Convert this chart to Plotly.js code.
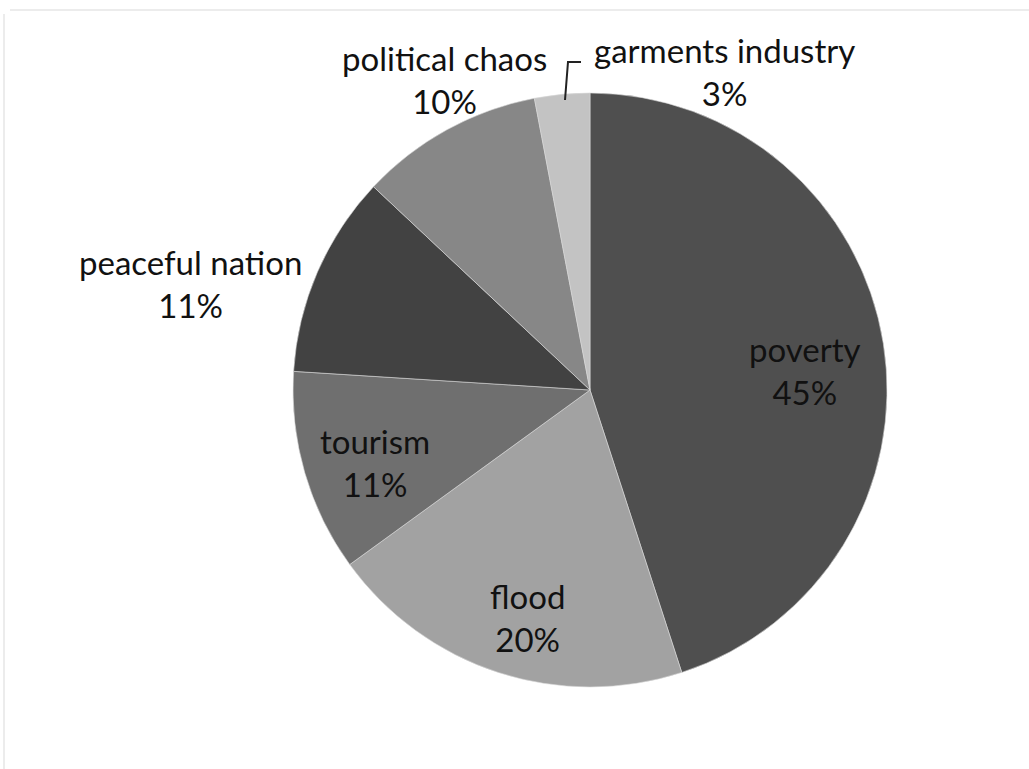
<!DOCTYPE html>
<html>
<head>
<meta charset="utf-8">
<script src="https://cdn.plot.ly/plotly-3.0.1.min.js"></script>
<style>html,body{margin:0;padding:0;background:#fff;}#chart{width:1029px;height:769px;}</style>
</head>
<body>
<div id="chart"></div>
<script>
const categories = ["poverty", "flood", "tourism", "peaceful nation", "political chaos", "garments industry"];
const values = [45, 20, 11, 11, 10, 3];
const colors = ["#4f4f4f", "#a2a2a2", "#6f6f6f", "#424242", "#878787", "#c3c3c3"];

// label block centers in page pixels
const labelPos = [[805, 370], [527, 617], [375, 462], [190, 283], [444, 79], [724, 72]];

const W = 1029, H = 769;
const cx = 590, cy = 390, R = 297;

const total = values.reduce((a, b) => a + b, 0);
const annotations = categories.map((c, i) => ({
  xref: 'paper', yref: 'paper',
  x: labelPos[i][0] / W, y: 1 - labelPos[i][1] / H,
  xanchor: 'center', yanchor: 'middle',
  text: c + '<br>' + Math.round(values[i] / total * 100) + '%',
  showarrow: false,
  font: {family: 'Lato, Open Sans, sans-serif', size: 33, color: '#111'}
}));

const data = [{
  type: 'pie',
  labels: categories,
  values: values,
  sort: false,
  direction: 'clockwise',
  rotation: 0,
  textinfo: 'none',
  hoverinfo: 'label+percent',
  marker: {colors: colors, line: {color: '#d8d8d8', width: 0.6}},
  domain: {x: [(cx - R) / W, (cx + R) / W], y: [1 - (cy + R) / H, 1 - (cy - R) / H]},
  showlegend: false
}];

const layout = {
  width: W, height: H,
  margin: {l: 0, r: 0, t: 0, b: 0},
  paper_bgcolor: '#ffffff',
  showlegend: false,
  annotations: annotations,
  shapes: [
    {type: 'line', xref: 'paper', yref: 'paper', x0: 10 / W, x1: 1, y0: 1 - 10 / H, y1: 1 - 10 / H, line: {color: '#ececec', width: 2}},
    {type: 'line', xref: 'paper', yref: 'paper', x0: 4 / W, x1: 4 / W, y0: 0, y1: 1 - 14 / H, line: {color: '#ececec', width: 2}},
    {type: 'path', xref: 'paper', yref: 'paper',
     path: 'M ' + (565 / W) + ' ' + (1 - 100 / H) + ' L ' + (568 / W) + ' ' + (1 - 62 / H) + ' L ' + (581 / W) + ' ' + (1 - 62 / H),
     line: {color: '#222', width: 2}}
  ]
};

Plotly.newPlot('chart', data, layout, {displayModeBar: false, staticPlot: true});
</script>
</body>
</html>
